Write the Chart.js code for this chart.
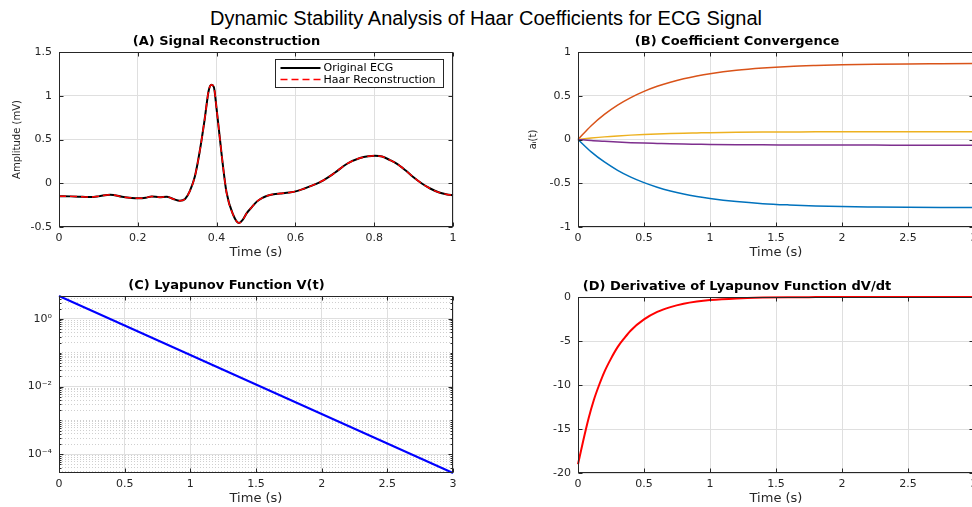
<!DOCTYPE html>
<html>
<head>
<meta charset="utf-8">
<title>Dynamic Stability Analysis of Haar Coefficients for ECG Signal</title>
<script src="https://cdn.jsdelivr.net/npm/chart.js@4.4.1/dist/chart.umd.min.js"></script>
<style>
  html, body { margin: 0; padding: 0; background: #fff; width: 972px; height: 507px; overflow: hidden; }
  #figTitle {
    position: absolute; left: 0; top: 6px; width: 972px; text-align: center;
    font: 20px "Liberation Sans", Arial, sans-serif; line-height: 24px; color: #000;
  }
  canvas { position: absolute; }
</style>
</head>
<body>
<div id="figTitle">Dynamic Stability Analysis of Haar Coefficients for ECG Signal</div>
<canvas id="chartA"></canvas>
<canvas id="chartB"></canvas>
<canvas id="chartC"></canvas>
<canvas id="chartD"></canvas>
<script>
"use strict";

/* ---------------- DATA ---------------- */

// (A) one ECG beat, original vs Haar reconstruction
const ecgTime = [0, 0.03, 0.06, 0.08, 0.10, 0.13, 0.16, 0.18, 0.20, 0.22,
  0.235, 0.255, 0.273, 0.29, 0.307, 0.32, 0.332, 0.345, 0.357, 0.370,
  0.380, 0.387, 0.393, 0.400, 0.413, 0.425, 0.442, 0.457, 0.466, 0.476,
  0.490, 0.502, 0.515, 0.527, 0.545, 0.561, 0.585, 0.603, 0.620, 0.640,
  0.671, 0.700, 0.730, 0.764, 0.785, 0.802, 0.820, 0.840, 0.857, 0.880,
  0.899, 0.920, 0.942, 0.965, 0.985, 1.000];
const ecgOriginal = [-0.148, -0.150, -0.155, -0.158, -0.150, -0.130, -0.155, -0.165, -0.172, -0.166,
  -0.150, -0.160, -0.153, -0.180, -0.200, -0.180, -0.090, 0.080, 0.360, 0.740,
  1.060, 1.125, 1.100, 0.850, 0.320, -0.100, -0.360, -0.455, -0.420, -0.345,
  -0.270, -0.210, -0.170, -0.145, -0.125, -0.117, -0.105, -0.090, -0.065, -0.030,
  0.034, 0.120, 0.220, 0.288, 0.308, 0.314, 0.305, 0.265, 0.224, 0.145,
  0.072, 0.000, -0.060, -0.105, -0.128, -0.136];
const ecgHaar = [-0.148, -0.150, -0.155, -0.158, -0.150, -0.130, -0.155, -0.165, -0.172, -0.166,
  -0.150, -0.160, -0.153, -0.180, -0.200, -0.180, -0.090, 0.080, 0.360, 0.740,
  1.060, 1.125, 1.100, 0.850, 0.320, -0.100, -0.360, -0.455, -0.420, -0.345,
  -0.270, -0.210, -0.170, -0.145, -0.125, -0.117, -0.105, -0.090, -0.065, -0.030,
  0.034, 0.120, 0.220, 0.288, 0.308, 0.314, 0.305, 0.265, 0.224, 0.145,
  0.072, 0.000, -0.060, -0.105, -0.128, -0.136];
const ecgLabels = ["Original ECG", "Haar Reconstruction"];
const ecgTimeTicks = [0, 0.2, 0.4, 0.6, 0.8, 1];
const ecgAmpTicks = [-0.5, 0, 0.5, 1, 1.5];

// (B) Haar coefficient trajectories a_i(t)
const coefTime = [0, 0.1, 0.2, 0.3, 0.4, 0.5, 0.6, 0.7, 0.8, 0.9, 1.0,
  1.2, 1.4, 1.6, 1.8, 2.0, 2.25, 2.5, 2.75, 3.0];
const coefA1 = [0, -0.141, -0.257, -0.352, -0.430, -0.493, -0.545, -0.588, -0.623, -0.651, -0.674,
  -0.709, -0.733, -0.748, -0.759, -0.766, -0.771, -0.775, -0.777, -0.778];
const coefA2 = [0, 0.158, 0.287, 0.393, 0.479, 0.550, 0.608, 0.655, 0.694, 0.726, 0.752,
  0.791, 0.817, 0.835, 0.846, 0.854, 0.860, 0.864, 0.866, 0.868];
const coefA3 = [0, 0.016, 0.030, 0.041, 0.050, 0.057, 0.063, 0.068, 0.072, 0.075, 0.078,
  0.082, 0.085, 0.086, 0.088, 0.088, 0.089, 0.089, 0.090, 0.090];
const coefA4 = [0, -0.012, -0.021, -0.029, -0.036, -0.041, -0.045, -0.049, -0.052, -0.054, -0.056,
  -0.059, -0.061, -0.062, -0.063, -0.064, -0.064, -0.065, -0.065, -0.065];
const coefTicks = [-1, -0.5, 0, 0.5, 1];

// shared time ticks for B, C, D
const timeTicks = [0, 0.5, 1, 1.5, 2, 2.5, 3];

// (C) Lyapunov function V(t), log axis
const lyapTime = [0, 0.25, 0.5, 0.75, 1.0, 1.25, 1.5, 1.75, 2.0, 2.25, 2.5, 2.75, 3.0];
const lyapV = [4.75, 1.742, 0.639, 0.2344, 0.0859, 0.0315, 0.01154, 0.004233,
  0.001552, 0.000569, 0.0002085, 0.0000764, 0.000028];
const lyapDecades = [-4, -2, 0];   // labelled ticks 10^k

// (D) dV/dt
const dVdtTime = [0, 0.04, 0.08, 0.12, 0.16, 0.2, 0.25, 0.3, 0.35, 0.4, 0.5, 0.6,
  0.7, 0.8, 0.9, 1.0, 1.2, 1.4, 1.6, 1.8, 2.0, 2.5, 3.0];
const dVdtValues = [-19.0, -16.3, -13.8, -11.7, -10.0, -8.5, -7.0, -5.7, -4.7, -3.8, -2.55, -1.7,
  -1.15, -0.77, -0.52, -0.35, -0.16, -0.07, -0.03, -0.014, -0.006, -0.001, 0];
const dVdtTicks = [-20, -15, -10, -5, 0];

/* ---------------- STYLE / LAYOUT ---------------- */

const AXIS_COLOR = "#262626";
const GRID_COLOR = "#dfdfdf";
const MINOR_GRID = "#cfcfcf";
const FONT = "'DejaVu Sans', sans-serif";
const TITLE_H = 24;   // title box height incl. padding
const XAXIS_H = 40;   // tick labels + "Time (s)"

const panels = {
  A: { canvasLeft: 0,   plotLeft: 59,  plotTop: 52,  plotW: 394, plotH: 175 },
  B: { canvasLeft: 500, plotLeft: 578, plotTop: 52,  plotW: 396, plotH: 175 },
  C: { canvasLeft: 0,   plotLeft: 59,  plotTop: 296, plotW: 394, plotH: 177 },
  D: { canvasLeft: 500, plotLeft: 578, plotTop: 297, plotW: 396, plotH: 176 },
};

const pts = (xs, ys) => xs.map((x, i) => ({ x, y: ys[i] }));
const fmt = v => String(+Number(v).toFixed(4));

/* ---------------- PLUGINS ---------------- */

// MATLAB-ish box with inward ticks on all four sides
const axesFrame = {
  id: "axesFrame",
  afterDatasetsDraw(chart) {
    const { ctx, chartArea: a, scales } = chart;
    const L = Math.round(a.left) + 0.5, R = Math.round(a.right) - 0.5;
    const T = Math.round(a.top) + 0.5, B = Math.round(a.bottom) - 0.5;
    ctx.save();
    ctx.strokeStyle = AXIS_COLOR;
    ctx.lineWidth = 1;
    ctx.beginPath();
    scales.x.ticks.forEach(t => {
      const px = Math.round(scales.x.getPixelForValue(t.value)) + 0.5;
      ctx.moveTo(px, B); ctx.lineTo(px, B - 4);
      ctx.moveTo(px, T); ctx.lineTo(px, T + 4);
    });
    scales.y.ticks.forEach(t => {
      const py = Math.round(scales.y.getPixelForValue(t.value)) + 0.5;
      const len = t.minor ? 2 : 4;
      ctx.moveTo(L, py); ctx.lineTo(L + len, py);
      ctx.moveTo(R, py); ctx.lineTo(R - len, py);
    });
    ctx.stroke();
    ctx.strokeRect(L, T, R - L, B - T);
    ctx.restore();
  },
};

// boxed legend in the upper right of panel A
const ecgLegend = {
  id: "ecgLegend",
  afterDraw(chart) {
    const { ctx, chartArea: a } = chart;
    const w = 168, h = 28;
    const x0 = Math.round(a.right - 10 - w) + 0.5, y0 = Math.round(a.top + 7) + 0.5;
    ctx.save();
    ctx.fillStyle = "#fff";
    ctx.fillRect(x0, y0, w, h);
    ctx.strokeStyle = AXIS_COLOR;
    ctx.lineWidth = 1;
    ctx.strokeRect(x0, y0, w, h);
    ctx.font = `11px ${FONT}`;
    ctx.textBaseline = "middle";
    chart.data.datasets.slice().sort((p, q) => q.order - p.order).forEach((ds, i) => {
      const y = y0 + 8.5 + i * 11.5;
      ctx.strokeStyle = ds.borderColor;
      ctx.lineWidth = ds.borderWidth;
      ctx.setLineDash(ds.borderDash || []);
      ctx.beginPath();
      ctx.moveTo(x0 + 5, y); ctx.lineTo(x0 + 45, y);
      ctx.stroke();
      ctx.setLineDash([]);
      ctx.fillStyle = "#000";
      ctx.fillText(ds.label, x0 + 48, y + 0.5);
    });
    ctx.restore();
  },
};

/* ---------------- CHART BUILDER ---------------- */

function line(label, data, color, width, extra = {}) {
  return Object.assign({
    label, data,
    borderColor: color,
    borderWidth: width,
    pointRadius: 0,
    fill: false,
    cubicInterpolationMode: "monotone",
    clip: 4,
  }, extra);
}

function makePanel(id, p, cfg) {
  const canvas = document.getElementById(id);
  const yW = p.plotLeft - p.canvasLeft;
  canvas.width = yW * 2 + p.plotW;
  canvas.height = TITLE_H + p.plotH + XAXIS_H;
  canvas.style.left = p.canvasLeft + "px";
  canvas.style.top = (p.plotTop - TITLE_H) + "px";

  const yScale = Object.assign({
    position: "left",
    afterFit: s => { s.width = yW; },
    grid: { color: GRID_COLOR, drawTicks: false },
    border: { display: false },
    ticks: { color: AXIS_COLOR, font: { family: FONT, size: 11 }, padding: 7, autoSkip: false },
    title: cfg.yTitle
      ? { display: true, text: cfg.yTitle, color: AXIS_COLOR, font: { family: FONT, size: 10 }, padding: { top: cfg.yTitlePad, bottom: 0 } }
      : { display: false },
  }, cfg.y);

  return new Chart(canvas, {
    type: "line",
    data: { datasets: cfg.datasets },
    options: {
      responsive: false,
      animation: false,
      devicePixelRatio: 1,
      layout: { padding: { left: 0, right: yW, top: 0, bottom: 0 } },
      plugins: {
        legend: { display: false },
        tooltip: { enabled: false },
        title: {
          display: true,
          text: cfg.title,
          color: "#000",
          font: { family: FONT, size: 13, weight: "bold" },
          padding: { top: 6, bottom: 2.4 },
        },
      },
      scales: {
        x: {
          type: "linear",
          position: "bottom",
          min: cfg.xTicks[0],
          max: cfg.xTicks[cfg.xTicks.length - 1],
          afterBuildTicks: s => { s.ticks = cfg.xTicks.map(v => ({ value: v })); },
          afterFit: s => { s.height = XAXIS_H; },
          grid: { color: GRID_COLOR, drawTicks: false },
          border: { display: false },
          ticks: { color: AXIS_COLOR, font: { family: FONT, size: 11 }, padding: 5, autoSkip: false, maxRotation: 0, callback: fmt },
          title: { display: true, text: "Time (s)", color: AXIS_COLOR, font: { family: FONT, size: 13 }, padding: { top: 0, bottom: 6.2 } },
        },
        y: yScale,
      },
    },
    plugins: [axesFrame].concat(cfg.plugins || []),
  });
}

function linearY(ticks) {
  return {
    type: "linear",
    min: ticks[0],
    max: ticks[ticks.length - 1],
    afterBuildTicks: s => { s.ticks = ticks.map(v => ({ value: v })); },
    ticks: { color: AXIS_COLOR, font: { family: FONT, size: 11 }, padding: 7, autoSkip: false, callback: fmt },
  };
}

/* ---------------- INIT ---------------- */

function init() {
  // (A)
  makePanel("chartA", panels.A, {
    title: "(A) Signal Reconstruction",
    xTicks: ecgTimeTicks,
    y: linearY(ecgAmpTicks),
    yTitle: "Amplitude (mV)",
    yTitlePad: 11.5,
    datasets: [
      line(ecgLabels[0], pts(ecgTime, ecgOriginal), "#000000", 2, { order: 2 }),
      line(ecgLabels[1], pts(ecgTime, ecgHaar), "#ff0000", 1.5, { order: 1, borderDash: [7, 4] }),
    ],
    plugins: [ecgLegend],
  });

  // (B)
  makePanel("chartB", panels.B, {
    title: "(B) Coefficient Convergence",
    xTicks: timeTicks,
    y: linearY(coefTicks),
    yTitle: "a\u1D62(t)",
    yTitlePad: 27,
    datasets: [
      line("a1", pts(coefTime, coefA1), "#0072BD", 1.5, { order: 4 }),
      line("a2", pts(coefTime, coefA2), "#D95319", 1.5, { order: 3 }),
      line("a3", pts(coefTime, coefA3), "#EDB120", 1.5, { order: 2 }),
      line("a4", pts(coefTime, coefA4), "#7E2F8E", 1.5, { order: 1 }),
    ],
  });

  // (C) log axis: decades labelled, every mantissa as a dotted minor line
  const vMin = Math.min(...lyapV), vMax = Math.max(...lyapV);
  const loExp = Math.floor(Math.log10(vMin)), hiExp = Math.floor(Math.log10(vMax));
  const logTicks = [];
  for (let k = loExp; k <= hiExp; k++) {
    for (let m = 1; m <= 9; m++) {
      const v = m * Math.pow(10, k);
      if (v < vMin || v > vMax) continue;
      logTicks.push({ value: v, minor: !(m === 1 && lyapDecades.includes(k)) });
    }
  }
  const sup = { "-": "\u207B", "0": "\u2070", "1": "\u00B9", "2": "\u00B2", "3": "\u00B3", "4": "\u2074",
    "5": "\u2075", "6": "\u2076", "7": "\u2077", "8": "\u2078", "9": "\u2079" };

  makePanel("chartC", panels.C, {
    title: "(C) Lyapunov Function V(t)",
    xTicks: timeTicks,
    y: {
      type: "logarithmic",
      min: vMin,
      max: vMax,
      afterBuildTicks: s => { s.ticks = logTicks.map(t => Object.assign({}, t)); },
      grid: {
        drawTicks: false,
        color: c => (c.tick && c.tick.minor ? MINOR_GRID : GRID_COLOR),
      },
      border: { display: false, dash: c => (c.tick && c.tick.minor ? [1, 2] : []) },
      ticks: {
        color: AXIS_COLOR, font: { family: FONT, size: 11 }, padding: 7, autoSkip: false,
        callback: (v, i, ticks) => {
          if (ticks[i] && ticks[i].minor) return "";
          const k = Math.round(Math.log10(v));
          return "10" + String(k).split("").map(ch => sup[ch]).join("");
        },
      },
    },
    datasets: [
      line("V(t)", pts(lyapTime, lyapV), "#0000FF", 2, { cubicInterpolationMode: "default", tension: 0 }),
    ],
  });

  // (D)
  makePanel("chartD", panels.D, {
    title: "(D) Derivative of Lyapunov Function dV/dt",
    xTicks: timeTicks,
    y: linearY(dVdtTicks),
    datasets: [
      line("dV/dt", pts(dVdtTime, dVdtValues), "#FF0000", 2),
    ],
  });
}

init();
</script>
</body>
</html>
